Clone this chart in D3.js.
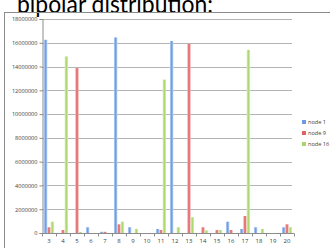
<!DOCTYPE html>
<html>
<head>
<meta charset="utf-8">
<script src="https://cdn.jsdelivr.net/npm/d3@7"></script>
<style>
body { margin: 0; background: #fff; }
svg { display: block; }
</style>
</head>
<body>
<svg class="chart"></svg>
<script>
/*Chart values*/
const categories = [3, 4, 5, 6, 7, 8, 9, 10, 11, 12, 13, 14, 15, 16, 17, 18, 19, 20]
const seriesNames = ["node 1", "node 9", "node 16"]
const node1 = [16250000, 0, 0, 480000, 100000, 16450000, 480000, 0, 340000, 16150000, 0, 0, 0, 950000, 340000, 480000, 0, 480000]
const node9 = [480000, 250000, 13870000, 0, 100000, 730000, 0, 0, 250000, 0, 15900000, 480000, 250000, 250000, 1430000, 0, 0, 730000]
const node16 = [950000, 14850000, 80000, 0, 0, 950000, 340000, 0, 12900000, 480000, 1320000, 220000, 250000, 0, 15400000, 340000, 0, 480000]
const yTicks = [0, 2000000, 4000000, 6000000, 8000000, 10000000, 12000000, 14000000, 16000000, 18000000]

const series = [node1, node9, node16]
const colors = [
	{ edge: "#bcd3f3", mid: "#6b9ae0" },
	{ edge: "#f5b3b3", mid: "#e06262" },
	{ edge: "#dcefbc", mid: "#a9d66b" }
]

const width = 330, height = 248
const plot = { left: 42, right: 294, top: 19, bottom: 233 }

var chart = d3.select(".chart")
	.attr("width", width)
	.attr("height", height)

/*Gradients for the bars*/
var defs = chart.append("defs")
colors.forEach((c, i) => {
	var g = defs.append("linearGradient")
		.attr("id", "grad" + i)
		.attr("x1", "0").attr("x2", "1").attr("y1", "0").attr("y2", "0")
	g.append("stop").attr("offset", "0").attr("stop-color", c.edge)
	g.append("stop").attr("offset", "0.5").attr("stop-color", c.mid)
	g.append("stop").attr("offset", "1").attr("stop-color", c.edge)
})

/*Title, partly cut off at the top*/
chart.append("text")
	.attr("x", 17)
	.attr("y", 13)
	.attr("fill", "#000")
	.attr("textLength", 196)
	.attr("lengthAdjust", "spacingAndGlyphs")
	.style("font-family", "Lato, 'Open Sans', sans-serif")
	.style("font-size", "25px")
	.text("bipolar distribution:")

/*Chart frame*/
chart.append("rect")
	.attr("x", 4.5).attr("y", 12.5)
	.attr("width", 340).attr("height", 250)
	.attr("fill", "none")
	.attr("stroke", "#8c8c8c")

var x = d3.scaleBand()
	.domain(categories)
	.range([plot.left, plot.right])
	.paddingInner(0.28)
	.paddingOuter(0.14)

var xInner = d3.scaleBand()
	.domain(d3.range(series.length))
	.range([0, x.bandwidth()])

var y = d3.scaleLinear()
	.domain([0, 18000000])
	.range([plot.bottom, plot.top])

/*Gridlines*/
chart.append("g")
	.selectAll("line")
	.data(yTicks.slice(1))
	.enter()
	.append("line")
		.attr("x1", plot.left).attr("x2", plot.right - 2)
		.attr("y1", d => Math.round(y(d)) + 0.5)
		.attr("y2", d => Math.round(y(d)) + 0.5)
		.attr("stroke", "#b4b4b4")

/*Bars*/
chart.append("g")
	.selectAll("g")
	.data(series)
	.enter()
	.append("g")
		.attr("fill", (d, i) => "url(#grad" + i + ")")
	.selectAll("rect")
	.data((d, i) => d.map((v, j) => ({ v: v, cat: categories[j], s: i })))
	.enter()
	.append("rect")
		.attr("x", d => x(d.cat) + xInner(d.s))
		.attr("width", xInner.bandwidth())
		.attr("y", d => y(d.v))
		.attr("height", d => plot.bottom - y(d.v))

/*Y axis*/
var yAxis = chart.append("g")
	.attr("transform", "translate(" + (plot.left + 0.5) + ",0)")
	.call(d3.axisLeft(y).tickValues(yTicks).tickSize(3).tickFormat(d3.format("d")))
yAxis.select(".domain").attr("stroke", "#8c8c8c")
yAxis.selectAll(".tick line").attr("stroke", "#8c8c8c")
yAxis.selectAll(".tick text")
	.attr("fill", "#404040")
	.attr("x", -5)
	.style("font-family", "'Open Sans', sans-serif")
	.style("font-size", "5.6px")

/*X axis with ticks between categories*/
var xAxis = chart.append("g")
	.attr("transform", "translate(0," + (plot.bottom + 0.5) + ")")
xAxis.append("line")
	.attr("x1", plot.left).attr("x2", plot.right)
	.attr("stroke", "#8c8c8c")
xAxis.selectAll(".sep")
	.data(categories.concat([null]))
	.enter()
	.append("line")
		.attr("class", "sep")
		.attr("x1", d => Math.round(d === null ? plot.right : x(d) - x.step() * x.paddingInner() / 2) + 0.5)
		.attr("x2", d => Math.round(d === null ? plot.right : x(d) - x.step() * x.paddingInner() / 2) + 0.5)
		.attr("y1", 0).attr("y2", 3)
		.attr("stroke", "#8c8c8c")
xAxis.selectAll(".lbl")
	.data(categories)
	.enter()
	.append("text")
		.attr("class", "lbl")
		.attr("x", d => x(d) + x.bandwidth() / 2)
		.attr("y", 9)
		.attr("text-anchor", "middle")
		.attr("fill", "#404040")
		.style("font-family", "'Open Sans', sans-serif")
		.style("font-size", "6px")
		.text(d => d)

/*Legend*/
var legend = chart.append("g")
	.selectAll("g")
	.data(seriesNames)
	.enter()
	.append("g")
		.attr("transform", (d, i) => "translate(302," + (122 + i * 11) + ")")
legend.append("rect")
	.attr("x", 0).attr("y", -2)
	.attr("width", 4).attr("height", 4)
	.attr("fill", (d, i) => colors[i].mid)
legend.append("text")
	.attr("x", 6)
	.attr("y", 2)
	.attr("fill", "#404040")
	.style("font-family", "'Open Sans', sans-serif")
	.style("font-size", "5.6px")
	.text(d => d)
</script>
</body>
</html>
